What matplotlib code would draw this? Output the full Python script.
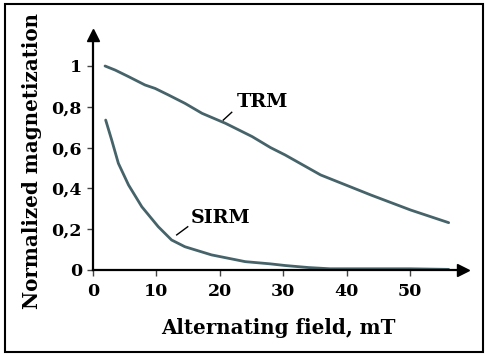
import matplotlib
matplotlib.use("Agg")
import matplotlib.pyplot as plt
from matplotlib.patches import Rectangle

trm_x = [1.9, 3.5, 5.6, 8.2, 9.8, 11.9, 14.5, 17.2, 20.9, 25.1, 28.0, 30.3, 35.9, 43.8, 50.1, 56.1]
trm_y = [1.0, 0.98, 0.948, 0.907, 0.89, 0.858, 0.817, 0.768, 0.719, 0.654, 0.60, 0.564, 0.466, 0.368, 0.294, 0.232]

sirm_x = [2.0, 2.95, 4.0, 5.6, 7.7, 10.3, 12.4, 14.5, 18.7, 24.0, 28.0, 30.3, 34.0, 37.4, 45.0, 50.0, 56.1]
sirm_y = [0.735, 0.637, 0.523, 0.417, 0.31, 0.212, 0.147, 0.114, 0.074, 0.041, 0.030, 0.022, 0.012, 0.006, 0.006, 0.006, 0.003]

x_ticks = [0, 10, 20, 30, 40, 50]
y_ticks = [0, 0.2, 0.4, 0.6, 0.8, 1.0]
y_tick_labels = ["0", "0,2", "0,4", "0,6", "0,8", "1"]

W, H = 487, 356
fig = plt.figure(figsize=(W / 100, H / 100), dpi=100)
fig.patch.set_facecolor("white")

left_px, right_px, bottom_px, top_px = 93, 463, 270, 35
ax = fig.add_axes([left_px / W, 1 - bottom_px / H, (right_px - left_px) / W, (bottom_px - top_px) / H])

xpx = 6.34  # px per unit
ypx = 204.0
ax.set_xlim(0, (right_px - left_px) / xpx)
ax.set_ylim(0, (bottom_px - top_px) / ypx)

col = "#46636a"
ax.plot(trm_x, trm_y, color=col, lw=2.0, solid_capstyle="round")
ax.plot(sirm_x, sirm_y, color=col, lw=2.0, solid_capstyle="round")

for s in ["top", "right"]:
    ax.spines[s].set_visible(False)
for s in ["left", "bottom"]:
    ax.spines[s].set_linewidth(1.6)
    ax.spines[s].set_color("black")

ax.plot(1, 0, marker=">", color="black", markersize=9, transform=ax.transAxes, clip_on=False)
ax.plot(0, 1, marker="^", color="black", markersize=9, transform=ax.transAxes, clip_on=False)

font = {"family": "DejaVu Serif", "weight": "bold"}
ax.set_xticks(x_ticks)
ax.set_xticklabels([str(v) for v in x_ticks], fontdict=font, fontsize=12.5)
ax.set_yticks(y_ticks)
ax.set_yticklabels(y_tick_labels, fontdict=font, fontsize=12.5)
ax.tick_params(direction="out", length=4, width=1, color="#444444")
ax.tick_params(axis="x", pad=5)
ax.tick_params(axis="y", pad=4)

ax.set_xlabel("Alternating field, mT", fontdict=font, fontsize=14.3, labelpad=13)
ax.set_ylabel("Normalized magnetization", fontdict=font, fontsize=14.3)
ax.yaxis.set_label_coords(-0.138, 0.464)

ax.text(22.67, 0.825, "TRM", fontdict=font, fontsize=13.8, va="center", ha="left")
ax.plot([20.55, 21.88], [0.735, 0.773], color="black", lw=1)
ax.text(15.46, 0.255, "SIRM", fontdict=font, fontsize=13.8, va="center", ha="left")
ax.plot([13.2, 14.94], [0.172, 0.212], color="black", lw=1)

fig.patches.append(Rectangle((5 / W, 1 - 352 / H), 478 / W, 348 / H, transform=fig.transFigure,
                             fill=False, edgecolor="black", lw=1.5))

fig.savefig("out.png", dpi=100, facecolor="white")
